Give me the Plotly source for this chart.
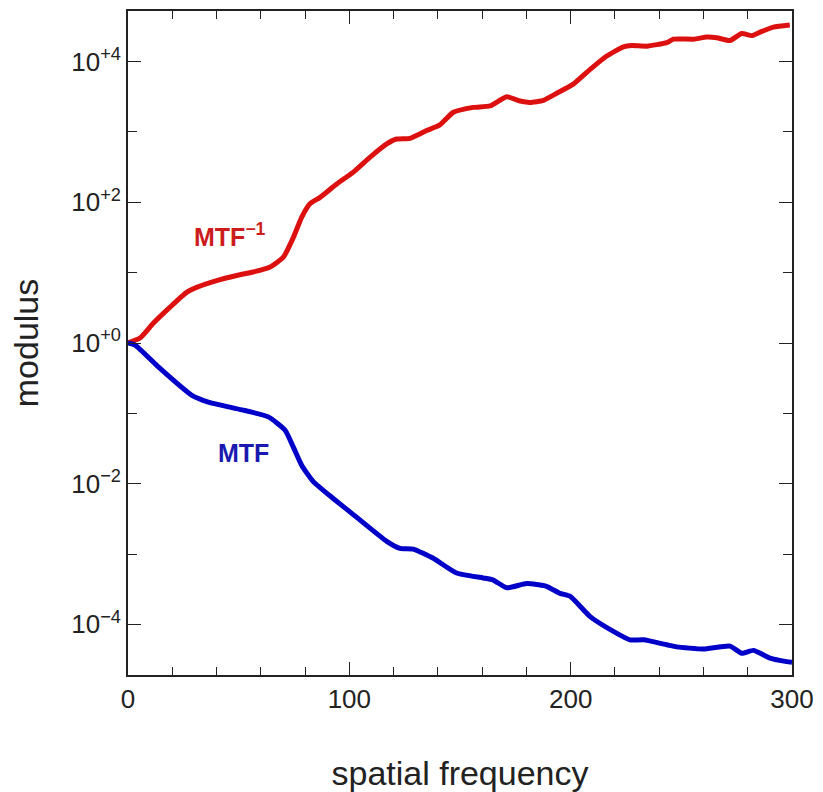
import plotly.graph_objects as go

# spatial frequency samples and log10 of modulus
freq_inv = [0, 5.4, 11.4, 19, 26.5, 31, 41.6, 49.1, 56.6, 64.2, 70.2, 74.7, 78.5, 82.2,
            86.8, 94.3, 101.8, 109.3, 116.9, 121.4, 127.4, 134.9, 140.9, 147, 156,
            163.6, 171.1, 177.1, 181.6, 187.7, 193.7, 201.2, 208.8, 216.3, 223.8,
            227.6, 234.4, 243.4, 246.4, 255.5, 261.5, 266, 272, 277.3, 281.8, 285.6,
            291.6, 299]
log_inv = [0, 0.07, 0.28, 0.51, 0.72, 0.79, 0.90, 0.96, 1.01, 1.08, 1.22, 1.50, 1.79, 1.98,
           2.07, 2.26, 2.43, 2.64, 2.83, 2.90, 2.91, 3.02, 3.10, 3.28, 3.35,
           3.37, 3.50, 3.44, 3.42, 3.45, 3.55, 3.68, 3.89, 4.08, 4.21,
           4.23, 4.22, 4.27, 4.32, 4.32, 4.35, 4.34, 4.30, 4.40, 4.37, 4.42,
           4.49, 4.52]

freq_mtf = [0, 3.2, 13.7, 28.7, 36.3, 51.4, 63.4, 71, 74.7, 78.5, 83.7, 92.7, 101.8, 116.9,
            122.9, 128.9, 137.9, 148.4, 160.5, 165, 171.1, 180.1, 189.1, 195.2, 199.7,
            208.8, 219.3, 226.8, 232.9, 243.4, 247.9, 259.9, 272, 277.3, 282.6, 290.1,
            297.6, 300]
log_mtf = [0, -0.03, -0.34, -0.74, -0.84, -0.95, -1.05, -1.24, -1.48, -1.74, -1.97, -2.21, -2.44, -2.82,
           -2.92, -2.93, -3.06, -3.27, -3.34, -3.37, -3.48, -3.42, -3.46, -3.56, -3.60,
           -3.89, -4.10, -4.22, -4.22, -4.29, -4.32, -4.35, -4.31, -4.41, -4.37, -4.48,
           -4.53, -4.54]

y_major = [1e-4, 1e-2, 1e0, 1e2, 1e4]
y_major_text = ["10<sup>\u22124</sup>", "10<sup>\u22122</sup>", "10<sup>+0</sup>",
                "10<sup>+2</sup>", "10<sup>+4</sup>"]
y_minor = [1e-3, 1e-1, 1e1, 1e3]
x_major = [0, 100, 200, 300]
x_minor = [20, 40, 60, 80, 120, 140, 160, 180, 220, 240, 260, 280]

mtf = [10 ** v for v in log_mtf]
inv = [10 ** v for v in log_inv]

FONT = "Liberation Sans, Arial"

fig = go.Figure()
fig.add_trace(go.Scatter(x=freq_inv, y=inv, mode="lines",
                         line=dict(color="#dd1010", width=5, shape="spline", smoothing=0.5),
                         showlegend=False))
fig.add_trace(go.Scatter(x=freq_mtf, y=mtf, mode="lines",
                         line=dict(color="#0000c8", width=5, shape="spline", smoothing=0.5),
                         showlegend=False))

fig.add_annotation(x=29.0, y=1.54, xref="x", yref="y", text="<b>MTF<sup>\u22121</sup></b>",
                   showarrow=False, xanchor="left", yanchor="middle",
                   font=dict(family=FONT, size=25, color="#cc1c1c"))
fig.add_annotation(x=52.3, y=-1.565, xref="x", yref="y", text="<b>MTF</b>",
                   showarrow=False, xanchor="center", yanchor="middle",
                   font=dict(family=FONT, size=25, color="#1a1ab0"))

axis_common = dict(showline=True, linecolor="#222222", linewidth=1.6, mirror="ticks",
                   ticks="inside", ticklen=13, tickwidth=1.4, tickcolor="#222222",
                   showgrid=False, zeroline=False, automargin=False,
                   tickfont=dict(family=FONT, size=26, color="#222222"))

fig.update_xaxes(**axis_common, range=[0, 300], tickmode="array", tickvals=x_major,
                 ticktext=[str(v) for v in x_major],
                 minor=dict(tickvals=x_minor, ticks="inside", ticklen=8, tickwidth=1.4,
                            tickcolor="#222222", showgrid=False),
                 title=dict(text="spatial frequency", standoff=48,
                            font=dict(family=FONT, size=34, color="#222222")))
fig.update_yaxes(**axis_common, type="log", range=[-4.72, 4.72], tickmode="array",
                 tickvals=y_major, ticktext=y_major_text,
                 minor=dict(tickvals=y_minor, ticks="inside", ticklen=9, tickwidth=1.4,
                            tickcolor="#222222", showgrid=False),
                 title=dict(text="modulus", standoff=22,
                            font=dict(family=FONT, size=34, color="#222222")))

fig.update_layout(width=823, height=792, margin=dict(l=128, r=31, t=11, b=117),
                  plot_bgcolor="white", paper_bgcolor="white")

fig.write_html("out.html")
